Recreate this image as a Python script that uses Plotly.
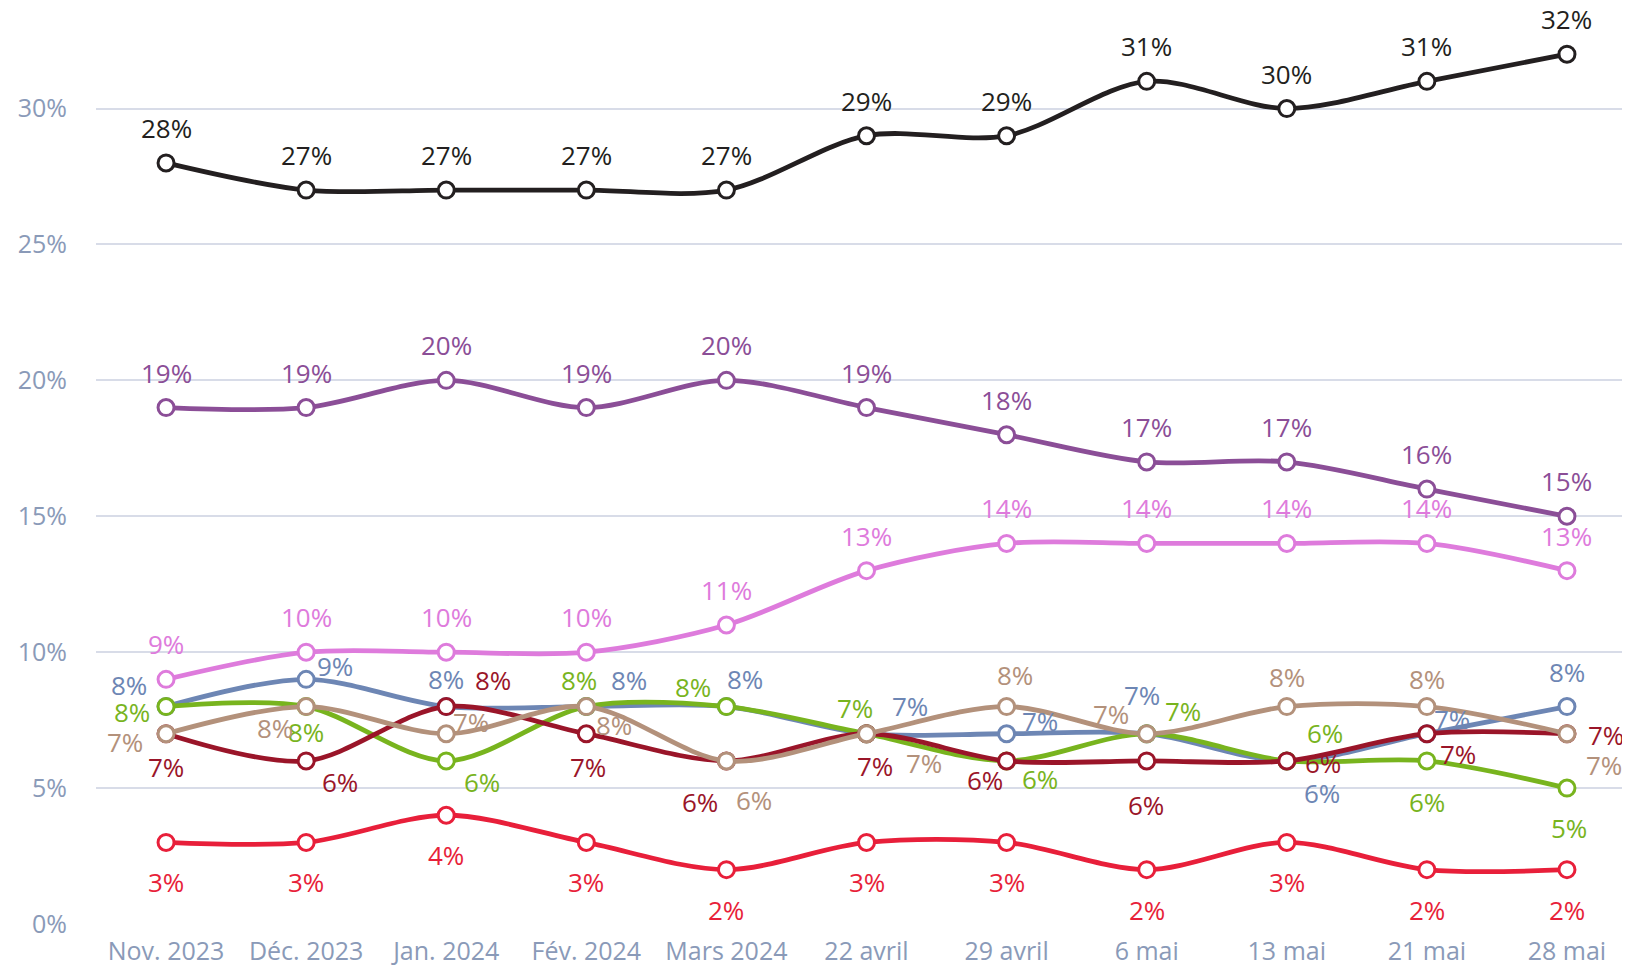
import plotly.graph_objects as go

mois = ["Nov. 2023", "Déc. 2023", "Jan. 2024", "Fév. 2024", "Mars 2024",
        "22 avril", "29 avril", "6 mai", "13 mai", "21 mai", "28 mai"]

rouge = [3, 3, 4, 3, 2, 3, 3, 2, 3, 2, 2]
bleu = [8, 9, 8, 8, 8, 7, 7, 7, 6, 7, 8]
vert = [8, 8, 6, 8, 8, 7, 6, 7, 6, 6, 5]
bordeaux = [7, 6, 8, 7, 6, 7, 6, 6, 6, 7, 7]
beige = [7, 8, 7, 8, 6, 7, 8, 7, 8, 8, 7]
rose = [9, 10, 10, 10, 11, 13, 14, 14, 14, 14, 13]
violet = [19, 19, 20, 19, 20, 19, 18, 17, 17, 16, 15]
noir = [28, 27, 27, 27, 27, 29, 29, 31, 30, 31, 32]

# label offsets in px from the marker (dx right, dy down) - hand placed
HAUT = [(0, -35)] * 11
BAS = [(0, 40)] * 11
off_bleu = [(-37, -22), (29, -13), (0, -28), (43, -27), (19, -28), (43, -28),
            (33, -13), (-5, -39), (35, 32), (25, -15), (0, -35)]
off_vert = [(-34, 5), (0, 25), (36, 21), (-7, -27), (-33, -20), (-12, -26),
            (33, 18), (36, -23), (38, -28), (0, 41), (2, 40)]
off_bordeaux = [(0, 33), (34, 21), (47, -27), (2, 33), (-26, 41), (8, 32),
                (-22, 19), (-1, 44), (36, 2), (31, 20), (39, 1)]
off_beige = [(-41, 8), (-31, 21), (25, -12), (28, 18), (28, 39), (57, 29),
             (8, -32), (-36, -20), (0, -30), (0, -28), (37, 31)]

series = [
    (rouge, "#e81f3a", BAS),
    (bleu, "#6d86b4", off_bleu),
    (vert, "#78b41e", off_vert),
    (bordeaux, "#9a1529", off_bordeaux),
    (beige, "#b3917b", off_beige),
    (rose, "#de7bdc", HAUT),
    (violet, "#8b4e97", HAUT),
    (noir, "#231f20", HAUT),
]

fig = go.Figure()
annots = []
for vals, col, offs in series:
    xs = list(range(len(mois)))
    fig.add_trace(go.Scatter(
        x=xs, y=vals,
        mode="lines+markers",
        line=dict(color=col, width=4.8, shape="spline", smoothing=0.9),
        marker=dict(size=16, color="white", line=dict(color=col, width=3)),
        cliponaxis=False,
        hoverinfo="skip",
        showlegend=False,
    ))
    for x, v, (dx, dy) in zip(xs, vals, offs):
        annots.append(dict(
            x=x, y=v, text=f"{v}%", showarrow=False,
            xanchor="center", yanchor="middle",
            xshift=dx, yshift=-dy,
            font=dict(color=col, size=26, family="Open Sans"),
        ))

# page body adds an 8px margin, so the margins here are trimmed to match
fig.update_layout(
    width=1630, height=974,
    margin=dict(l=88, r=0, t=19, b=58),
    plot_bgcolor="white", paper_bgcolor="white",
    font=dict(family="Open Sans", color="#8a9ab8", size=25),
    annotations=annots,
)
fig.update_xaxes(
    tickvals=list(range(len(mois))), ticktext=mois,
    range=[-0.5, 10.507], showgrid=False, zeroline=False, showline=False,
    tickfont=dict(size=25, color="#8a9ab8"), ticklabelstandoff=10,
    automargin=False,
)
fig.update_yaxes(
    range=[0, 33], tickvals=[0, 5, 10, 15, 20, 25, 30],
    ticktext=["0%", "5%", "10%", "15%", "20%", "25%", "30%"],
    gridcolor="#d8dce8", gridwidth=2, zeroline=False,
    tickfont=dict(size=25, color="#8a9ab8"), ticklabelstandoff=28,
    automargin=False,
)

fig.write_html("out.html")
